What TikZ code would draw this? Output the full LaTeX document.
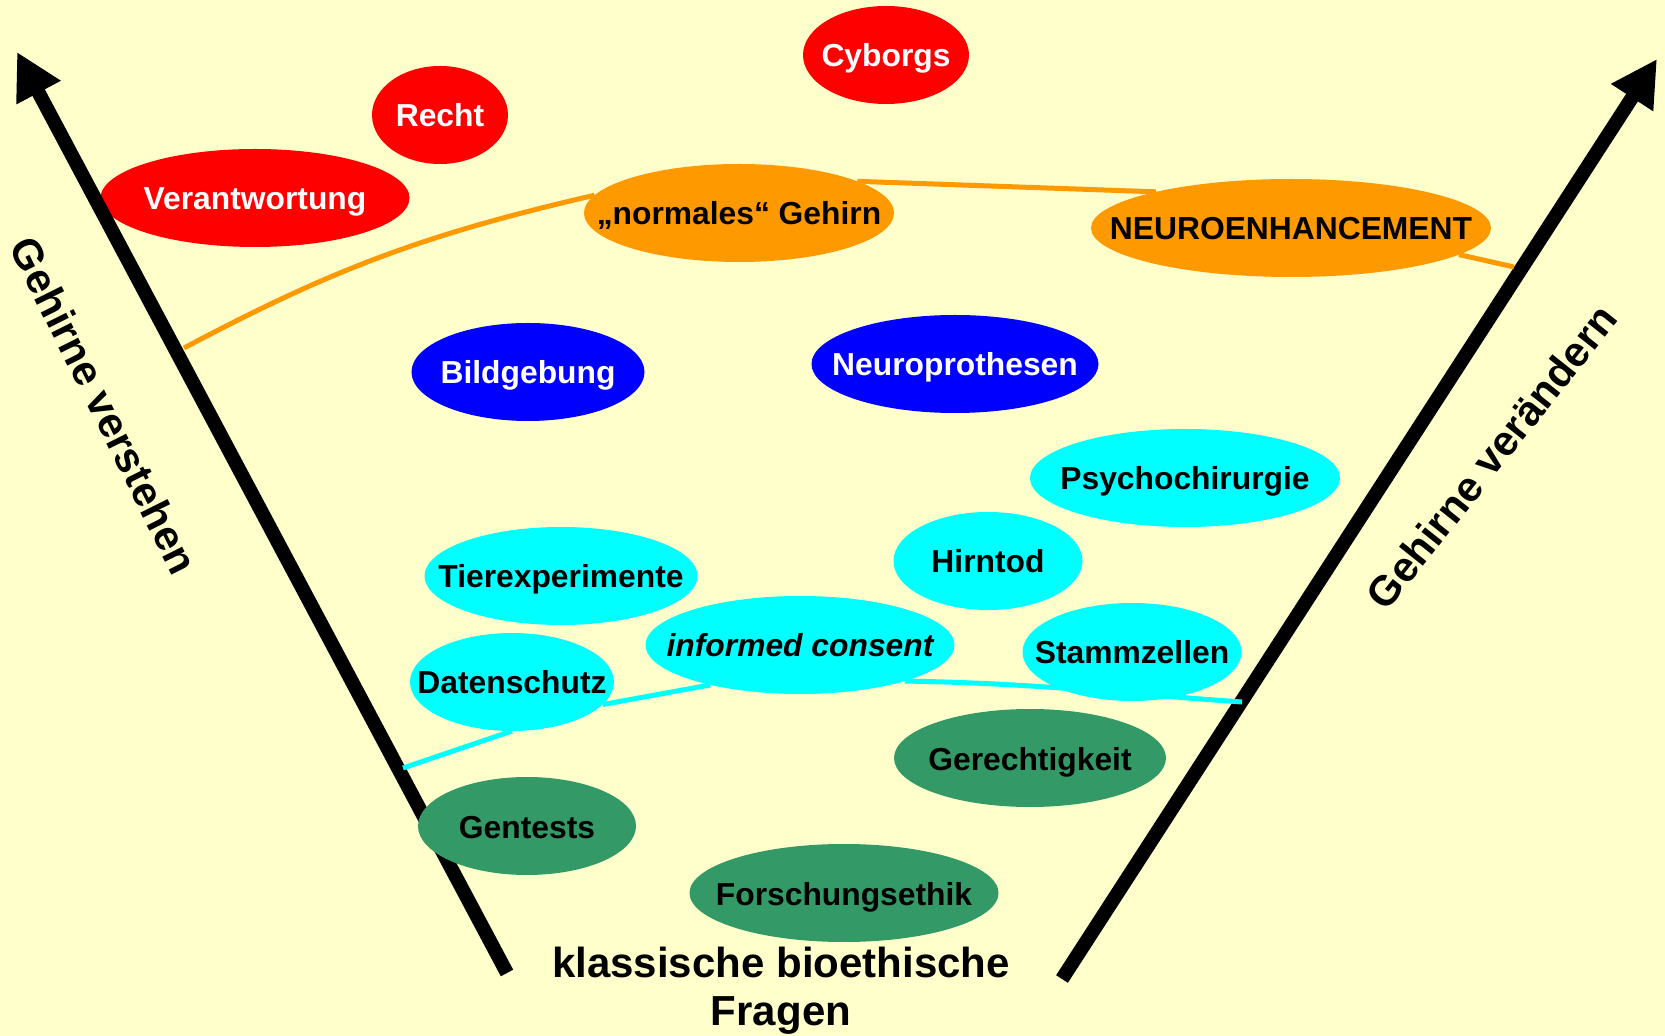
\documentclass[tikz,border=0pt]{standalone}
\usepackage{fontspec}
\setmainfont{Liberation Sans}
\usetikzlibrary{shapes.geometric,arrows.meta}
\definecolor{paper}{HTML}{FFFFCC}
\definecolor{ppred}{HTML}{FF0000}
\definecolor{pporange}{HTML}{FF9900}
\definecolor{ppblue}{HTML}{0000FF}
\definecolor{ppcyan}{HTML}{00FFFF}
\definecolor{ppgreen}{HTML}{339966}
\pgfdeclarelayer{back}
\pgfdeclarelayer{wires}
\pgfsetlayers{back,wires,main}
\tikzset{
  topic/.style={ellipse,inner sep=0pt,outer sep=0pt,minimum height=49pt,
    text height=14pt,text depth=2pt,font=\fontsize{15.9}{19}\selectfont\bfseries,
    execute at begin node={\hbox to 0pt\bgroup\hss},
    execute at end node={\hss\egroup}},
  redtopic/.style={topic,fill=ppred,text=white},
  orangetopic/.style={topic,fill=pporange},
  bluetopic/.style={topic,fill=ppblue,text=white},
  cyantopic/.style={topic,fill=ppcyan},
  greentopic/.style={topic,fill=ppgreen},
  bigarrow/.style={line width=7pt,-{Triangle[length=23pt,width=23.5pt]}},
  sidelabel/.style={inner sep=0pt,font=\fontsize{21}{24}\selectfont\bfseries},
  orangewire/.style={pporange,line width=2.5pt},
  cyanwire/.style={ppcyan,line width=2.5pt}
}
\begin{document}
\begin{tikzpicture}[x=0.5pt,y=-0.5pt]
\useasboundingbox (0,0) rectangle (1665,1036);
\begin{pgfonlayer}{back}
\fill[paper] (0,0) rectangle (1665,1036);
\node[redtopic,minimum width=154.5pt] (verantwortung) at (255,198) {Verantwortung};
\draw[bigarrow] (507,973) -- (17,52);
\draw[bigarrow] (1062,979) -- (1657,59);
\end{pgfonlayer}
\node[redtopic,minimum width=83pt] (cyborgs) at (886,55) {Cyborgs};
\node[redtopic,minimum width=68pt] (recht) at (440,115) {Recht};
\node[orangetopic,minimum width=155pt] (gehirn) at (739,213) {„normales“ Gehirn};
\node[orangetopic,minimum width=200pt] (enhancement) at (1291,228) {NEUROENHANCEMENT};
\node[bluetopic,minimum width=116.5pt] (bildgebung) at (528,372) {Bildgebung};
\node[bluetopic,minimum width=143.5pt] (prothesen) at (955,364) {Neuroprothesen};
\node[cyantopic,minimum width=155pt] (psycho) at (1185,478) {Psychochirurgie};
\node[cyantopic,minimum width=94.5pt] (hirntod) at (988,561) {Hirntod};
\node[cyantopic,minimum width=136.5pt] (tier) at (561,576) {Tierexperimente};
\node[cyantopic,minimum width=154.5pt] (consent) at (800,645) {\itshape informed consent};
\node[cyantopic,minimum width=109.5pt] (stamm) at (1132,652) {Stammzellen};
\node[cyantopic,minimum width=102pt] (daten) at (512,682) {Datenschutz};
\node[greentopic,minimum width=136pt] (gerecht) at (1030,758) {Gerechtigkeit};
\node[greentopic,minimum width=109pt] (gentests) at (527,826) {Gentests};
\node[greentopic,minimum width=154.5pt] (forschung) at (844,893) {Forschungsethik};
\coordinate (oL) at (184,348);
\coordinate (oR) at (1514,267);
\coordinate (cL) at (403,768);
\coordinate (cR) at (1242,702);
\begin{pgfonlayer}{wires}
\draw[orangewire] (oL) to[out=28,in=193] (gehirn.173);
\draw[orangewire] (gehirn.15) -- (enhancement.165);
\draw[orangewire] (enhancement.-9) -- (oR);
\draw[cyanwire] (cL) -- (daten.south);
\draw[cyanwire] (daten.-14) -- (consent.204);
\draw[cyanwire] (consent.-19) to[out=-1,in=176] (cR);
\end{pgfonlayer}
\node[sidelabel,anchor=base,rotate=-63.5] (verstehen) at (91,412) {Gehirne verstehen};
\node[sidelabel,anchor=base,rotate=51.5] (veraendern) at (1503,466) {Gehirne verändern};
\node[sidelabel,anchor=north,align=center] (klassisch) at (781,947) {klassische bioethische\\Fragen};
\end{tikzpicture}
\end{document}
